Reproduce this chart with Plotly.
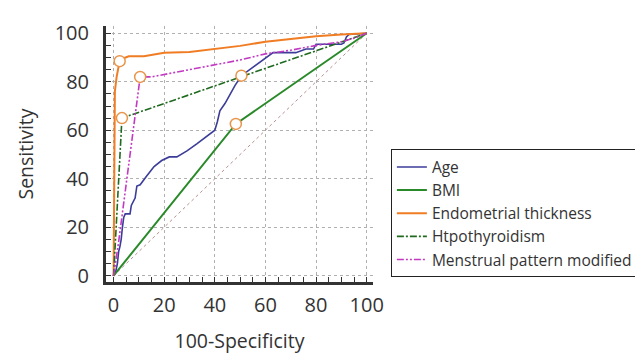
import plotly.graph_objects as go

# ---- data ----
age_x = [0, 0.7, 1.5, 2, 2.5, 3, 3.5, 4, 4.6, 6.5, 7, 8, 8.5, 9.2, 10.5, 13, 16, 19, 22, 25, 29, 33, 37, 40,
         41, 42, 44, 46, 48, 50.5, 55, 60, 63, 72, 76, 79, 80, 86, 90, 91, 92, 93, 100]
age_y = [0, 1, 5, 10, 12, 15, 20, 24, 25.5, 25.5, 29, 31, 32, 37, 37.5, 41, 45, 47.5, 49, 49, 51.5, 54.5, 57.5, 60,
         63.5, 68, 71, 75, 78.5, 82.5, 86, 90, 92, 92, 93.5, 93.5, 95.5, 95.5, 95.5, 96, 98.5, 99.5, 100]

bmi_x = [0, 48.3, 100]
bmi_y = [0, 62.6, 100]

endo_x = [0, 0.4, 0.5, 1.2, 2.4, 3.5, 6, 12, 20, 30, 40, 50, 60, 70, 80, 90, 100]
endo_y = [0, 60, 76, 82, 88.5, 89.5, 90.5, 90.5, 92, 92.3, 93.5, 94.8, 96.5, 97.8, 98.8, 99.5, 100]

hypo_x = [0, 3.3, 100]
hypo_y = [0, 65, 100]

mens_x = [0, 2, 5, 8, 10, 10.5, 15, 20, 30, 40, 50, 60, 70, 80, 90, 95, 100]
mens_y = [0, 14, 38, 62, 80, 82, 82, 83, 85, 87, 89, 91.5, 93, 95, 96.5, 98, 100]

# optimal cut-off points (open circles)
cut_x = [50.5, 48.3, 2.4, 3.3, 10.5]
cut_y = [82.5, 62.6, 88.5, 65, 82]

diag = [0, 100]

series_names = ["Age", "BMI", "Endometrial thickness", "Htpothyroidism", "Menstrual pattern modified"]
tick_vals = [0, 20, 40, 60, 80, 100]

# ---- figure ----
fig = go.Figure()

fig.add_trace(go.Scatter(x=diag, y=diag, mode="lines", showlegend=False, hoverinfo="skip",
                         line=dict(color="#b89090", width=1, dash="dot")))

styles = [
    (age_x, age_y, dict(color="#3b3d98", width=1.6)),
    (bmi_x, bmi_y, dict(color="#2a8a2a", width=2)),
    (endo_x, endo_y, dict(color="#f07c24", width=2)),
    (hypo_x, hypo_y, dict(color="#1f6a1f", width=1.6, dash="7px,2px,2px,2px")),
    (mens_x, mens_y, dict(color="#c23ac2", width=1.6, dash="7px,2px,2px,2px,2px,2px")),
]
for i, (name, (xs, ys, ln)) in enumerate(zip(series_names, styles)):
    fig.add_trace(go.Scatter(x=xs, y=ys, mode="lines", name=name, line=ln, legendgroup=f"g{i}"))

fig.add_trace(go.Scatter(x=cut_x, y=cut_y, mode="markers", showlegend=False,
                         marker=dict(symbol="circle", size=11, color="white",
                                     line=dict(color="#e8954a", width=1.5))))

axis_common = dict(
    tickvals=tick_vals, ticks="inside", ticklen=5, tickwidth=1.2, tickcolor="#333",
    showline=True, linecolor="#333", linewidth=3,
    showgrid=True, gridcolor="#b0b0b0", griddash="dot", gridwidth=1,
    zeroline=False, tickfont=dict(family="Open Sans", size=20, color="#333"),
    minor=dict(dtick=5, ticks="inside", ticklen=5, tickcolor="#333", showgrid=False),
)

fig.update_xaxes(**axis_common, range=[-3, 102.5], ticklabelstandoff=3,
                 title=dict(text="100-Specificity", font=dict(family="Open Sans", size=19.5, color="#333"),
                            standoff=18))
fig.update_yaxes(**axis_common, range=[-2.6, 103], ticklabelstandoff=10,
                 title=dict(text="Sensitivity", font=dict(family="Open Sans", size=19.5, color="#333"),
                            standoff=16))

fig.update_layout(
    width=643, height=354,
    margin=dict(l=98, r=278, t=17, b=69),
    plot_bgcolor="white", paper_bgcolor="white",
    legend=dict(x=1.067, y=0.518, xanchor="left", yanchor="top",
                bordercolor="#222", borderwidth=1, bgcolor="white",
                font=dict(family="Open Sans", size=15.5, color="#333"),
                tracegroupgap=3, traceorder="normal"),
)

fig.write_html("out.html")
